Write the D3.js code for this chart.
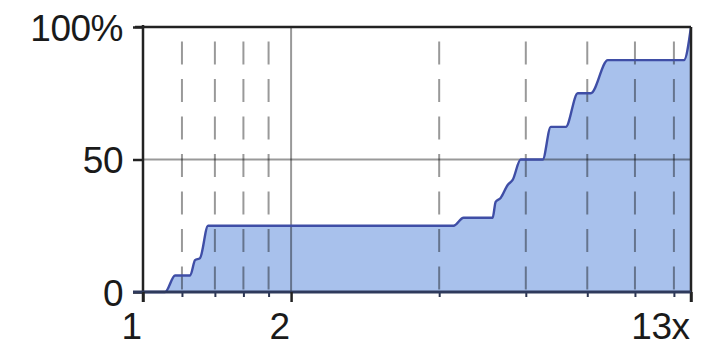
<!DOCTYPE html>
<html>
<head>
<meta charset="utf-8">
<script src="https://cdn.jsdelivr.net/npm/d3@7"></script>
<style>
  html, body { margin: 0; padding: 0; background: #fff; }
  svg { display: block; }
  text { font-family: "Liberation Sans", Arial, Helvetica, sans-serif; fill: #1a1a1a; }
</style>
</head>
<body>
<svg id="chart" width="701" height="347"></svg>
<script>
// Cumulative share of cases (%) reaching a given speedup (log x axis)
const speedup = [1, 1.109, 1.162, 1.247, 1.276, 1.306, 1.356, 4.278, 4.484, 5.137, 5.21, 5.333, 5.512, 5.642, 5.858, 6.494, 6.743, 7.234, 7.652, 8.134, 8.808, 12.58, 13];
const percent = [0, 0, 6.25, 6.25, 12, 12.8, 25, 25, 28, 28, 34, 35.5, 40.4, 42.3, 50, 50, 62.3, 62.3, 75, 75, 87.5, 87.5, 100];

const xTicks = [1, 2, 13];
const xTickLabels = ["1", "2", "13x"];
const yTicks = [0, 50, 100];
const yTickLabels = ["0", "50", "100%"];
const dashedGrid = [1.2, 1.4, 1.6, 1.8, 4, 6, 8, 10, 12];
const solidGridX = [2];
const solidGridY = [50];

const data = speedup.map((s, i) => ({ s, p: percent[i] }));

const svg = d3.select("#chart");
const plotLeft = 143, plotRight = 691, plotTop = 27, plotBottom = 292;

const x = d3.scaleLog().domain([1, 13]).range([plotLeft, plotRight]);
const y = d3.scaleLinear().domain([0, 100]).range([plotBottom, plotTop]);

// filled area under the cumulative curve
const area = d3.area()
  .x(d => x(d.s)).y0(y(0)).y1(d => y(d.p))
  .curve(d3.curveMonotoneX);
const line = d3.line()
  .x(d => x(d.s)).y(d => y(d.p))
  .curve(d3.curveMonotoneX);

svg.append("path").datum(data)
  .attr("d", area)
  .attr("fill", "#a8c1ec");

// grid lines drawn over the fill, semi-transparent so they darken on blue
const grid = svg.append("g").attr("stroke", "#000").attr("stroke-opacity", 0.4).attr("stroke-width", 2);
grid.selectAll("line.dash").data(dashedGrid).join("line")
  .attr("class", "dash")
  .attr("x1", d => x(d)).attr("x2", d => x(d))
  .attr("y1", y(100)).attr("y2", y(0))
  .attr("stroke-dasharray", "23 14.5")
  .attr("stroke-dashoffset", 23);
grid.selectAll("line.vx").data(solidGridX).join("line")
  .attr("class", "vx")
  .attr("x1", d => x(d)).attr("x2", d => x(d))
  .attr("y1", y(100)).attr("y2", y(0));
grid.selectAll("line.hy").data(solidGridY).join("line")
  .attr("class", "hy")
  .attr("x1", plotLeft).attr("x2", plotRight)
  .attr("y1", d => y(d)).attr("y2", d => y(d));

svg.append("path").datum(data)
  .attr("d", line)
  .attr("fill", "none")
  .attr("stroke", "#3f4ea6")
  .attr("stroke-width", 2.4)
  .attr("stroke-linejoin", "round");

// frame: top and right borders
svg.append("line").attr("x1", plotLeft - 8).attr("x2", plotRight).attr("y1", plotTop).attr("y2", plotTop)
  .attr("stroke", "#222").attr("stroke-width", 2.5);
svg.append("line").attr("x1", plotRight).attr("x2", plotRight).attr("y1", plotTop).attr("y2", plotBottom + 10)
  .attr("stroke", "#222").attr("stroke-width", 2.5);

// left axis
const yAxis = d3.axisLeft(y)
  .tickValues(yTicks)
  .tickFormat((d, i) => yTickLabels[i])
  .tickSize(10).tickPadding(10);
const gy = svg.append("g").attr("transform", `translate(${plotLeft},0)`).call(yAxis);
gy.select(".domain").attr("stroke", "#222").attr("stroke-width", 2.5)
  .attr("d", `M0,${plotTop - 2}V${plotBottom + 10}`);
gy.selectAll(".tick line").attr("stroke", "#222").attr("stroke-width", 2.5);
gy.selectAll(".tick text")
  .attr("font-size", 37).attr("dy", "0.36em").attr("letter-spacing", "-0.5")
  .style("font-family", "'Liberation Sans', Arial, sans-serif").attr("fill", "#1a1a1a");

// bottom axis with minor ticks
const xMinor = d3.axisBottom(x).tickValues(dashedGrid).tickSize(5).tickFormat("");
const gxm = svg.append("g").attr("transform", `translate(0,${plotBottom})`).call(xMinor);
gxm.select(".domain").remove();
gxm.selectAll(".tick line").attr("stroke", "#2c3550").attr("stroke-width", 2);

const xAxis = d3.axisBottom(x)
  .tickValues(xTicks)
  .tickFormat((d, i) => xTickLabels[i])
  .tickSize(10).tickPadding(14);
const gx = svg.append("g").attr("transform", `translate(0,${plotBottom})`).call(xAxis);
gx.select(".domain").attr("stroke", "#2e3a5c").attr("stroke-width", 3)
  .attr("d", `M${plotLeft - 10},0H${plotRight}`);
gx.selectAll(".tick line").attr("stroke", "#222").attr("stroke-width", 2.5);
gx.selectAll(".tick text")
  .attr("font-size", 37).attr("text-anchor", "end").attr("dx", -2)
  .attr("y", 47).attr("dy", 0).attr("letter-spacing", "-0.5")
  .style("font-family", "'Liberation Sans', Arial, sans-serif").attr("fill", "#1a1a1a");
</script>
</body>
</html>
